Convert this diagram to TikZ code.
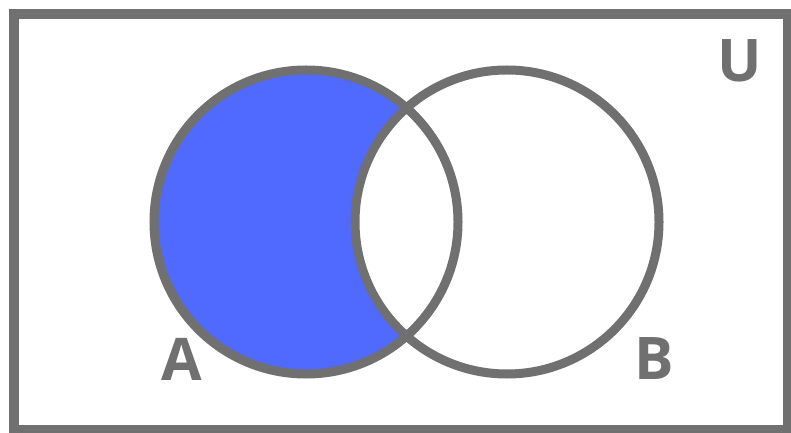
\documentclass[tikz,border=0pt]{standalone}
\usepackage{fontspec}
\setmainfont{Open Sans}
\usepackage{xcolor}
\usepackage{tikz}

\definecolor{setblue}{RGB}{80,106,255}
\definecolor{linegray}{RGB}{112,112,112}

\begin{document}
\begin{tikzpicture}[
    x=1bp, y=-1bp,
    set/.style={draw=linegray, line width=9bp},
    frame/.style={draw=linegray, line width=10bp},
    setlabel/.style={text=linegray, inner sep=0pt, font=\fontsize{59}{60}\selectfont\bfseries}
]
    \useasboundingbox (0,0) rectangle (791,433);
    \draw[frame] (14,14) rectangle (788,430);

    \coordinate (ca) at (306,222);
    \coordinate (cb) at (507,222);

    % A minus B
    \fill[setblue] (ca) circle (152bp);
    \fill[white] (cb) circle (152bp);
    \draw[set] (ca) circle (152bp);
    \draw[set] (cb) circle (152bp);

    \node[setlabel] (universe) at (740,61) {U};
    \node[setlabel] (seta) at (182,359) {A};
    \node[setlabel] (setb) at (654,359) {B};
\end{tikzpicture}
\end{document}
